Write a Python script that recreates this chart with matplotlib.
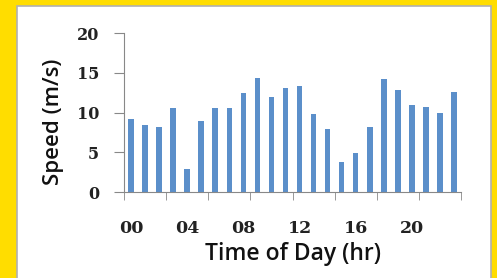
import numpy as np
import matplotlib
matplotlib.use("Agg")
from matplotlib import pyplot as plt
from matplotlib.patches import Rectangle

hours = np.arange(24)
speed = [9.2, 8.4, 8.2, 10.6, 2.9, 9.0, 10.6, 10.6, 12.5, 14.4, 12.0, 13.1,
         13.4, 9.8, 7.9, 3.8, 4.9, 8.2, 14.2, 12.8, 11.0, 10.7, 9.9, 12.6]
label_pos = [0, 4, 8, 12, 16, 20]
label_txt = ["00", "04", "08", "12", "16", "20"]

fig = plt.figure(figsize=(4.97, 2.78), dpi=100)
fig.patch.set_facecolor("#FFDD00")
fig.add_artist(Rectangle((17/497, -0.01), 474/497, 1.01 - 6/278, transform=fig.transFigure,
                         facecolor="white", edgecolor="#b0b0b0", lw=1.2, zorder=-10))

ax = fig.add_axes([124/497, 1 - 192.3/278, 337/497, (192.3 - 33)/278])
ax.patch.set_alpha(0)
ax.bar(hours, speed, width=0.4, color="#5b8fca")
ax.set_xlim(-0.5, 23.5)
ax.set_ylim(0, 20)
ax.set_yticks([0, 5, 10, 15, 20])
ax.set_xticks(label_pos)
ax.set_xticklabels(label_txt)
ax.set_xticks(np.arange(-0.5, 24, 3), minor=True)
ax.tick_params(axis="x", which="major", length=0, pad=20)
ax.tick_params(axis="x", which="minor", length=6, color="#888888", direction="out")
ax.tick_params(axis="y", length=7, color="#888888", pad=11)
for t in ax.get_yticklabels() + ax.get_xticklabels():
    t.set_family("DejaVu Serif")
    t.set_weight("bold")
    t.set_color("#222222")
    t.set_fontsize(11.5)
for t in ax.get_xticklabels():
    t.set_fontsize(12.5)
for s in ["top", "right"]:
    ax.spines[s].set_visible(False)
for s in ["left", "bottom"]:
    ax.spines[s].set_color("#888888")
ax.set_xlabel("Time of Day (hr)", family="Open Sans", weight="semibold", fontsize=16.5,
              color="#111111", va="center")
ax.xaxis.set_label_coords(0.501, -0.385)
ax.set_ylabel("Speed (m/s)", family="Open Sans", weight="semibold", fontsize=16,
              color="#111111", va="center")
ax.yaxis.set_label_coords(-0.209, 0.44)

fig.savefig("out.png", dpi=100, facecolor=fig.get_facecolor())
